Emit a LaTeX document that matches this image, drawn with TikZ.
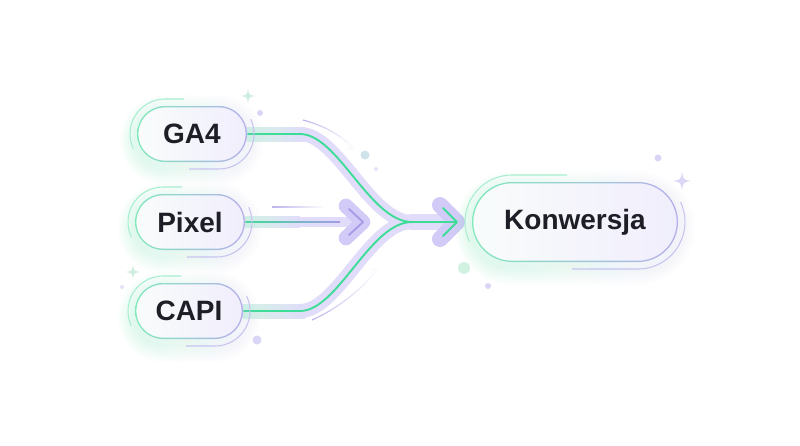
\documentclass[tikz,border=0pt]{standalone}
\usepackage{fontspec}
\setmainfont{Liberation Sans}
\usetikzlibrary{arrows.meta,fadings}
\pgfdeclarelayer{bg}
\pgfsetlayers{bg,main}
\definecolor{gr}{HTML}{3DDC97}
\definecolor{grl}{HTML}{D3F4E4}
\definecolor{lav}{HTML}{D2CBF7}
\definecolor{lavd}{HTML}{A59BE6}
\definecolor{lavl}{HTML}{E0DCFA}
\definecolor{ink}{HTML}{1E1F26}
\definecolor{pillL}{HTML}{F9FCFB}
\definecolor{pillR}{HTML}{F0EEFC}
\definecolor{dotT}{HTML}{CFE4EA}
\definecolor{dotG}{HTML}{D2F2E1}
\definecolor{dotL}{HTML}{D9D5F4}
\definecolor{spG}{HTML}{CDEEDF}
\definecolor{spL}{HTML}{DCD7F7}
\tikzset{
  thinarrow/.style={lavd!75, line width=0.9pt, -{Straight Barb[length=3.5pt,width=6pt]}, path fading=east},
  decoG/.style={gr!45, line width=0.8pt},
  decoL/.style={lavd!60, line width=0.8pt},
  pilltext/.style={text=ink, inner sep=0pt, font=\fontsize{21}{24}\selectfont\bfseries}
}
\newcommand\mypill[6]{%
  \begin{scope}[shift={(#2,#3)}]
    \foreach \k in {1,...,7}{%
      \pgfmathsetmacro\ee{\k*2.4}
      \pgfmathsetmacro\rr{(#5+\ee)*0.75}
      \shade[left color=gr, right color=lav, opacity=0.022, rounded corners=\rr pt]
        (-#4-\ee,-#5-\ee+6) rectangle (#4+\ee,#5+\ee+6);
    }
    \pgfmathsetmacro\rr{#5*0.75}
    \pgfmathsetmacro\ri{(#5-1.3)*0.75}
    \shade[left color=pillL, right color=pillR, rounded corners=\rr pt] (-#4,-#5) rectangle (#4,#5);
    \shade[left color=gr!65, right color=lavd!80, even odd rule]
      [rounded corners=\rr pt] (-#4,-#5) rectangle (#4,#5)
      [rounded corners=\ri pt] (-#4+1.3,-#5+1.3) rectangle (#4-1.3,#5-1.3);
    \draw[decoG] (-8,-#5-7) -- (-#4+#5,-#5-7) arc[start angle=270, end angle=155, radius=#5+7];
    \draw[decoL] (-3,#5+7) -- (#4-#5,#5+7) arc[start angle=90, end angle=-25, radius=#5+7];
  \end{scope}
  \node[pilltext, minimum width={2*#4*0.75pt}, minimum height={2*#5*0.75pt}] (#1) at (#2,#3) {#6};
}
\newcommand\sparkle[4]{%
  \begin{scope}[shift={(#1,#2)}]
    \fill[#4] (0,-#3) .. controls (0.15*#3,-0.15*#3) .. (#3,0)
      .. controls (0.15*#3,0.15*#3) .. (0,#3)
      .. controls (-0.15*#3,0.15*#3) .. (-#3,0)
      .. controls (-0.15*#3,-0.15*#3) .. (0,-#3) -- cycle;
  \end{scope}
}
\begin{document}
\begin{tikzpicture}[x=0.75pt,y=-0.75pt]
\begin{pgfonlayer}{bg}
  \fill[white] (0,0) rectangle (800,446);
\end{pgfonlayer}
\useasboundingbox (0,0) rectangle (800,446);

% pills
\mypill{ga4}{192}{134}{55}{28}{GA4}
\mypill{pixel}{190}{222}{55}{28}{Pixel}
\mypill{capi}{189}{311}{54}{28}{CAPI}
\mypill{konw}{575}{222}{103}{40}{Konwersja}

\coordinate (m) at (412,222);
\coordinate (tip) at (457,222);
\coordinate (ptip) at (363,222);
\coordinate (g1) at (300,134);
\coordinate (c1) at (300,311);

\begin{pgfonlayer}{bg}
  % bands
  \draw[lavl, line width=10.5pt, line cap=round] (ga4.east) -- (g1) .. controls (338,134) and (370,222) .. (m);
  \draw[lavl, line width=10.5pt, line cap=round] (capi.east) -- (c1) .. controls (338,311) and (370,222) .. (m);
  \shade[left color=grl, right color=lavl] (ga4.east) ++(0,-7) rectangle (305,141);
  \shade[left color=grl, right color=lavl] (capi.east) ++(0,-7) rectangle (305,318);
  \draw[lavl, line width=12pt, line cap=round] (m) -- (tip);
  \draw[lav, line width=12pt, line cap=round, line join=round] (440,205) -- (tip) -- (440,239);
  % pixel band
  \draw[lavl, line width=8pt] (pixel.east) -- (ptip);
  \shade[left color=grl, right color=lavl] (pixel.east) ++(0,-5.3) rectangle (300,227.3);
  \draw[lav, line width=11pt, line cap=round, line join=round] (346,206) -- (ptip) -- (346,238);
  % center lines
  \draw[gr, line width=1.4pt] (ga4.east) -- (g1) .. controls (338,134) and (370,222) .. (m);
  \draw[gr, line width=1.4pt] (capi.east) -- (c1) .. controls (338,311) and (370,222) .. (m);
  \draw[gr, line width=1.4pt] (m) -- (tip);
  \draw[gr, line width=1.4pt, line cap=round, line join=round] (443,208) -- (tip) -- (443,236);
  \shade[left color=gr, right color=lavd] (pixel.east) ++(0,-0.95) rectangle (340,222.95);
  \draw[lavd, line width=1.4pt, line cap=round, line join=round] (349,209) -- (ptip) -- (349,235);
\end{pgfonlayer}

% thin arrows
\draw[thinarrow] (303,120) .. controls (325,126) and (343,136) .. (354,150);
\draw[thinarrow] (272,207) -- (324,207);
\draw[thinarrow] (312,320) .. controls (335,310) and (362,290) .. (378,268);

% dots
\fill[dotL] (260,113) circle[radius=3];
\fill[dotT] (365,155) circle[radius=4.5];
\fill[dotL!70] (376,169) circle[radius=2];
\fill[dotG] (464,268) circle[radius=6];
\fill[dotL] (488,286) circle[radius=3];
\fill[dotL] (658,158) circle[radius=3.5];
\fill[dotL] (257,340) circle[radius=4.5];
\fill[dotL!70] (122,287) circle[radius=2];

% sparkles
\sparkle{248}{96}{7}{spG}
\sparkle{133}{272}{7}{spG}
\sparkle{682}{181}{9}{spL}
\end{tikzpicture}
\end{document}
